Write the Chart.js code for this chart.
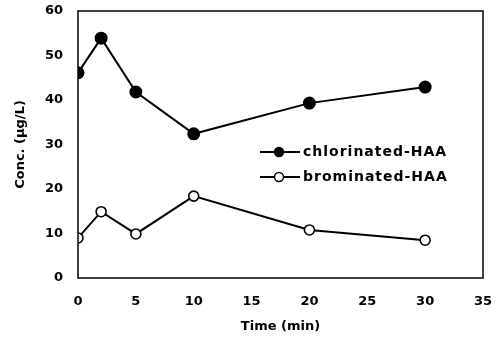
<!DOCTYPE html>
<html>
<head>
<meta charset="utf-8">
<script src="https://cdn.jsdelivr.net/npm/chart.js@4"></script>
<style>
  html, body { margin: 0; padding: 0; background: #fff; }
  #wrap { width: 500px; height: 338px; }
</style>
</head>
<body>
<div id="wrap"><canvas id="chart" width="500" height="338"></canvas></div>
<script>
const times = [0, 2, 5, 10, 20, 30];
const chlorinated = [46.1, 53.9, 41.8, 32.4, 39.3, 42.9];
const brominated = [9.0, 14.9, 9.9, 18.4, 10.8, 8.5];
const seriesLabels = ['chlorinated-HAA', 'brominated-HAA'];

const fontFamily = '"DejaVu Sans", Verdana, sans-serif';
const tickFont = { family: fontFamily, size: 13, weight: 'bold' };

// draws the frame around the plot and the legend inside it
const frameAndLegend = {
    id: 'frameAndLegend',
    afterDraw(chart) {
        const ctx = chart.ctx;
        const a = chart.chartArea;
        ctx.save();
        ctx.strokeStyle = '#000';
        ctx.lineWidth = 1.5;
        ctx.strokeRect(a.left, a.top, a.right - a.left, a.bottom - a.top);

        ctx.font = 'bold 14px ' + fontFamily;
        ctx.letterSpacing = '1px';
        ctx.textBaseline = 'middle';
        chart.data.datasets.forEach((ds, i) => {
            const y = 152 + i * 25;
            ctx.beginPath();
            ctx.moveTo(260, y);
            ctx.lineTo(300, y);
            ctx.lineWidth = 2;
            ctx.strokeStyle = '#000';
            ctx.stroke();
            ctx.beginPath();
            ctx.arc(279, y, 4.5, 0, Math.PI * 2);
            ctx.fillStyle = ds.pointBackgroundColor;
            ctx.fill();
            ctx.lineWidth = 1.5;
            ctx.stroke();
            ctx.fillStyle = '#000';
            ctx.fillText(ds.label, 303, y);
        });
        ctx.restore();
    }
};

// ignore the label overhang so the plot box keeps its place
function noOverhang(scale) {
    scale.paddingTop = 0;
    scale.paddingBottom = 0;
    scale.paddingLeft = 0;
    scale.paddingRight = 0;
}

new Chart(document.getElementById('chart'), {
    type: 'line',
    data: {
        datasets: [
            {
                label: seriesLabels[0],
                data: times.map((t, i) => ({ x: t, y: chlorinated[i] })),
                borderColor: '#000',
                borderWidth: 2,
                pointRadius: 5.5,
                pointBackgroundColor: '#000',
                pointBorderColor: '#000',
                tension: 0
            },
            {
                label: seriesLabels[1],
                data: times.map((t, i) => ({ x: t, y: brominated[i] })),
                borderColor: '#000',
                borderWidth: 2,
                pointRadius: 5,
                pointBorderWidth: 1.6,
                pointBackgroundColor: '#fff',
                pointBorderColor: '#000',
                tension: 0
            }
        ]
    },
    options: {
        responsive: false,
        animation: false,
        layout: { padding: { top: 11, right: 17, left: 0, bottom: 0 } },
        plugins: {
            legend: { display: false },
            tooltip: { enabled: false }
        },
        scales: {
            x: {
                type: 'linear',
                min: 0,
                max: 35,
                grid: { display: false, drawTicks: false },
                border: { display: false },
                ticks: { stepSize: 5, color: '#000', font: tickFont, padding: 16 },
                title: {
                    display: true,
                    text: 'Time (min)',
                    color: '#000',
                    font: { family: fontFamily, size: 13, weight: 'bold' },
                    padding: { top: 0, bottom: 4 }
                },
                afterFit(scale) { scale.height = 60; noOverhang(scale); }
            },
            y: {
                min: 0,
                max: 60,
                grid: { display: false, drawTicks: false },
                border: { display: false },
                ticks: { stepSize: 10, color: '#000', font: tickFont, padding: 15 },
                title: {
                    display: true,
                    text: 'Conc. (µg/L)',
                    color: '#000',
                    font: { family: fontFamily, size: 13, weight: 'bold' },
                    padding: { top: 13, bottom: 0 }
                },
                afterFit(scale) { scale.width = 78; noOverhang(scale); }
            }
        }
    },
    plugins: [frameAndLegend]
});
</script>
</body>
</html>
